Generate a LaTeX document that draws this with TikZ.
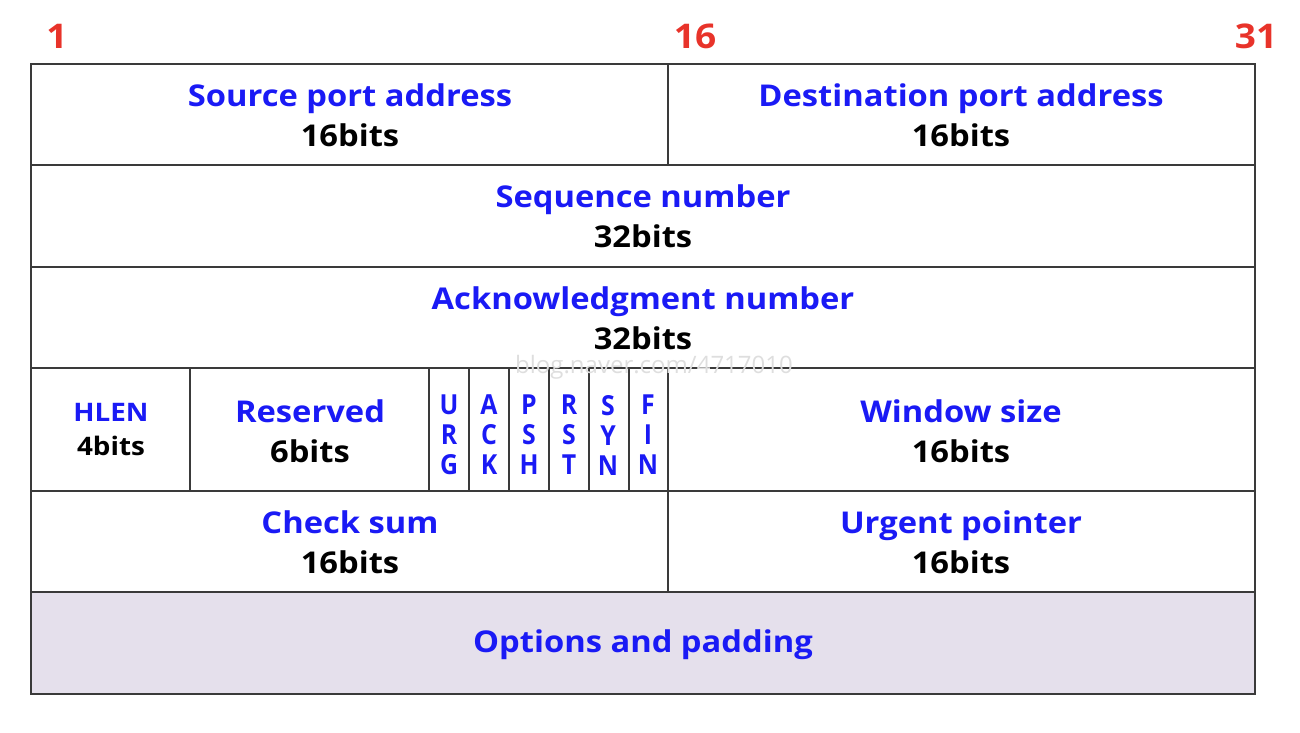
\documentclass[tikz,border=0pt]{standalone}
\usepackage{fontspec}
\usepackage{graphicx}
\setmainfont[FakeStretch=1.09]{Open Sans}
\newfontfamily\wmfont{Open Sans}
\definecolor{fblue}{HTML}{1A1AF5}
\definecolor{fred}{HTML}{E8332A}
\definecolor{optfill}{HTML}{E5E0EC}
\definecolor{gridc}{HTML}{3A3A3A}
\tikzset{
  cell/.style={draw=gridc, line width=1.5pt},
  lbl/.style={align=center, font=\fontsize{30}{40}\selectfont\bfseries, inner sep=0pt},
  small/.style={align=center, font=\fontsize{25.5}{34}\selectfont\bfseries, inner sep=0pt},
  flag/.style={align=center, font=\fontsize{24}{30}\selectfont\bfseries, text=fblue, inner sep=0pt},
  num/.style={font=\fontsize{34}{36}\selectfont\bfseries, text=fred, inner sep=0pt}
}
\newcommand{\bl}[1]{\textcolor{fblue}{#1}}
\newcommand{\tl}[1]{\scalebox{0.95}[1.15]{#1}}
\begin{document}
\begin{tikzpicture}[x=1pt,y=-1pt]
\useasboundingbox (0,0) rectangle (1300,732);
% options fill
\fill[optfill] (31,592) rectangle (1255,694);
% grid
\draw[cell] (31,64) rectangle (1255,694);
\foreach \yy in {165,267,368,491,592} \draw[cell] (31,\yy) -- (1255,\yy);
\draw[cell] (668,64) -- (668,165);
\draw[cell] (668,368) -- (668,592);
\foreach \xx in {190,429,469,509,549,589,629} \draw[cell] (\xx,368) -- (\xx,491);
% bit numbers
\node[num] (n1) at (57,36) {1};
\node[num] (n16) at (695,36) {16};
\node[num] (n31) at (1256,36) {31};
% row 1
\node[lbl] (src) at (350,115) {\bl{Source port address}\\16bits};
\node[lbl] (dst) at (961,115) {\bl{Destination port address}\\16bits};
% row 2
\node[lbl] (seq) at (643,216) {\bl{Sequence number}\\32bits};
% row 3
\node[lbl] (ack) at (643,318) {\bl{Acknowledgment number}\\32bits};
\node[font=\wmfont\fontsize{24}{24}\selectfont, text=black!13, inner sep=0pt] (wm) at (654,367) {blog.naver.com/4717010};
% row 4
\node[small] (hlen) at (111,430) {\bl{HLEN}\\4bits};
\node[lbl] (res) at (310,431) {\bl{Reserved}\\6bits};
\node[flag] (urg) at (449,435) {\tl{U}\\\tl{R}\\\tl{G}};
\node[flag] (ackf) at (489,435) {\tl{A}\\\tl{C}\\\tl{K}};
\node[flag] (psh) at (529,435) {\tl{P}\\\tl{S}\\\tl{H}};
\node[flag] (rst) at (569,435) {\tl{R}\\\tl{S}\\\tl{T}};
\node[flag] (syn) at (608,435) {\tl{S}\\\tl{Y}\\\tl{N}};
\node[flag] (fin) at (648,435) {\tl{F}\\\tl{I}\\\tl{N}};
\node[lbl] (win) at (961,431) {\bl{Window size}\\16bits};
% row 5
\node[lbl] (chk) at (350,542) {\bl{Check sum}\\16bits};
\node[lbl] (urp) at (961,542) {\bl{Urgent pointer}\\16bits};
% row 6
\node[lbl] (opt) at (643,645) {\bl{Options and padding}};
\end{tikzpicture}
\end{document}
